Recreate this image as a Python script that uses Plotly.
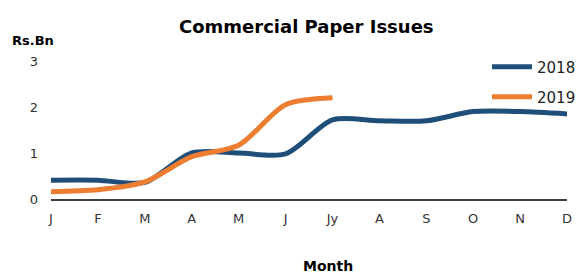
import plotly.graph_objects as go

months = ["J", "F", "M", "A", "M", "J", "Jy", "A", "S", "O", "N", "D"]
s2018 = [0.41, 0.41, 0.36, 1.0, 1.0, 0.98, 1.72, 1.7, 1.7, 1.9, 1.9, 1.85]
s2019 = [0.16, 0.2, 0.37, 0.92, 1.17, 2.05, 2.2]
yticks = [0, 1, 2, 3]

x_all = list(range(len(months)))

W, H = 579, 274
L, R, T, B = 51, W - 567, 61, H - 199
pw, ph = W - L - R, H - T - B

def px(xp):
    return (xp - L) / pw

def py(yp):
    return (H - B - yp) / ph

font_family = "DejaVu Sans"

fig = go.Figure()
fig.add_trace(go.Scatter(x=x_all, y=s2018, mode="lines", name="2018", legend="legend",
                         line=dict(color="#1F4E79", width=5, shape="spline", smoothing=0.8)))
fig.add_trace(go.Scatter(x=x_all[:len(s2019)], y=s2019, mode="lines", name="2019", legend="legend2",
                         line=dict(color="#ED7D31", width=5, shape="spline", smoothing=0.8)))

leg_x = px(581)
leg_common = dict(xanchor="right", yanchor="middle", font=dict(family=font_family, size=15, color="#222"),
                  bgcolor="rgba(0,0,0,0)", itemwidth=40)

fig.update_layout(
    width=W, height=H,
    margin=dict(l=L, r=R, t=T, b=B, autoexpand=False),
    plot_bgcolor="white", paper_bgcolor="white",
    showlegend=True,
    legend=dict(x=leg_x, y=py(67), **leg_common),
    legend2=dict(x=leg_x, y=py(97), **leg_common),
    xaxis=dict(range=[0, 11], tickmode="array", tickvals=x_all, ticktext=months,
               showgrid=False, zeroline=False, showline=True, linecolor="#404040", linewidth=2,
               ticks="", tickfont=dict(family=font_family, size=13, color="#333"),
               ticklabelstandoff=6, automargin=False),
    yaxis=dict(range=[0, 3], tickmode="array", tickvals=yticks, ticktext=[str(v) for v in yticks],
               showgrid=False, zeroline=False, showline=False, ticks="",
               tickfont=dict(family=font_family, size=13, color="#333"),
               ticklabelstandoff=12, automargin=False),
    annotations=[
        dict(text="<b>Commercial Paper Issues</b>", x=px(306), y=py(26), xref="paper", yref="paper",
             xanchor="center", yanchor="middle", showarrow=False,
             font=dict(family=font_family, size=18, color="black")),
        dict(text="<b>Rs.Bn</b>", x=px(33), y=py(40), xref="paper", yref="paper",
             xanchor="center", yanchor="middle", showarrow=False,
             font=dict(family=font_family, size=13, color="black")),
        dict(text="<b>Month</b>", x=px(328), y=py(266), xref="paper", yref="paper",
             xanchor="center", yanchor="middle", showarrow=False,
             font=dict(family=font_family, size=14, color="black")),
    ],
)

# remove the page's default body margin so the 579x274 figure fills the window exactly
fig.write_html(
    "out.html",
    config={"displayModeBar": False},
    post_script="document.documentElement.style.overflow='hidden';"
                "document.body.style.overflow='hidden';"
                "document.body.style.margin='0';",
)
